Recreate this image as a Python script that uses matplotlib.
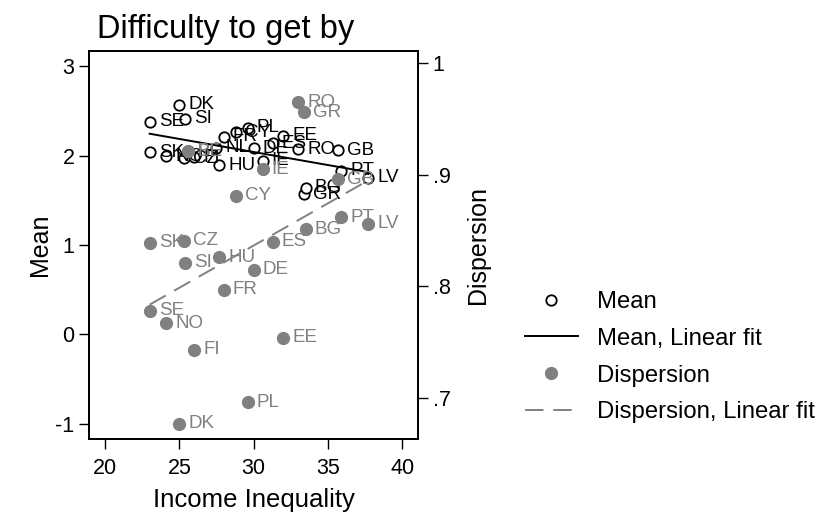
import numpy as np
import matplotlib.pyplot as plt
from matplotlib.lines import Line2D

plt.rcParams['font.family'] = ['Liberation Sans', 'DejaVu Sans']

# country codes, income inequality (x), mean difficulty (left axis), dispersion (right axis)
countries = ['SE', 'SK', 'NO', 'DK', 'CZ', 'SI', 'BE', 'FI', 'NL', 'HU', 'FR', 'CY',
             'PL', 'DE', 'IE', 'ES', 'EE', 'RO', 'GR', 'BG', 'GB', 'PT', 'LV']
inequality = [23.0, 23.0, 24.1, 25.0, 25.3, 25.4, 25.6, 26.0, 27.5, 27.7, 28.0, 28.8,
              29.6, 30.0, 30.6, 31.3, 32.0, 33.0, 33.4, 33.5, 35.7, 35.9, 37.7]
mean = [2.38, 2.04, 1.99, 2.57, 1.97, 2.41, 2.05, 1.98, 2.09, 1.89, 2.21, 2.26,
        2.31, 2.08, 1.94, 2.14, 2.22, 2.07, 1.57, 1.64, 2.06, 1.83, 1.75]
dispersion = [0.778, 0.839, 0.767, 0.677, 0.841, 0.821, 0.921, 0.743, np.nan, 0.826, 0.797, 0.881,
              0.696, 0.815, 0.905, 0.840, 0.754, 0.965, 0.956, 0.851, 0.896, 0.862, 0.856]

grey = '#808080'
dash = (9.5, 5)

x = np.array(inequality)
m = np.array(mean)
d = np.array(dispersion)

fig = plt.figure(figsize=(8.23, 5.15), dpi=100)
ax = fig.add_axes([89/823, 1-439/515, (418-89)/823, (439-51)/515])
ax2 = ax.twinx()

# mean scatter + fit
ax.plot(x, m, 'o', ms=7.5, mfc='white', mec='black', mew=1.3, zorder=3)
for c, xi, yi in zip(countries, x, m):
    ax.annotate(c, (xi, yi), xytext=(6.5, 0), textcoords='offset points',
                va='center', ha='left', fontsize=13.5, color='black', zorder=4)
ok = ~np.isnan(m)
b = np.polyfit(x[ok], m[ok], 1)
xf = np.array([x[ok].min(), x[ok].max()])
ax.plot(xf, np.polyval(b, xf), color='black', lw=1.4, zorder=3)

# dispersion scatter + fit
ok = ~np.isnan(d)
ax2.plot(x[ok], d[ok], 'o', ms=8.5, color=grey, mec=grey, zorder=3)
for c, xi, yi in zip(countries, x, d):
    if np.isnan(yi):
        continue
    ax2.annotate(c, (xi, yi), xytext=(6.5, 0), textcoords='offset points',
                 va='center', ha='left', fontsize=13.5, color=grey, zorder=4)
b2 = np.polyfit(x[ok], d[ok], 1)
xf2 = np.array([x[ok].min(), x[ok].max()])
ax2.plot(xf2, np.polyval(b2, xf2), color=grey, lw=1.4, dashes=dash, zorder=3)

ax.set_xlim(18.92, 41.06)
ax.set_ylim(-1.17, 3.17)
ax2.set_ylim(0.6633, 1.0107)

ax.set_xticks([20, 25, 30, 35, 40])
ax.set_yticks([-1, 0, 1, 2, 3])
ax.set_yticklabels(['-1', '0', '1', '2', '3'])
ax2.set_yticks([0.7, 0.8, 0.9, 1.0])
ax2.set_yticklabels(['.7', '.8', '.9', '1'])

for a in (ax, ax2):
    a.tick_params(axis='y', direction='out', length=7, width=1, labelsize=15.5, pad=3.5)
    for s in a.spines.values():
        s.set_linewidth(1.3)
ax.tick_params(axis='x', direction='out', length=7, width=1, labelsize=15.5, pad=7)

ax.set_xlabel('Income Inequality', fontsize=18.5)
ax.xaxis.set_label_coords(0.5, -(500-439)/388, transform=ax.transAxes)
ax.xaxis.label.set_va('center')
ax.set_ylabel('Mean', fontsize=18)
ax.yaxis.set_label_coords((40-89)/329, 0.5)
ax.yaxis.label.set_va('center')
ax2.set_ylabel('Dispersion', fontsize=18)
ax2.yaxis.set_label_coords((478-89)/329, 0.5)
ax2.yaxis.label.set_va('center')

fig.text(97/823, 1-38/515, 'Difficulty to get by', fontsize=23.5, ha='left', va='baseline')

handles = [
    Line2D([], [], marker='o', ls='none', ms=7.5, mfc='white', mec='black', mew=1.3),
    Line2D([], [], color='black', lw=1.4),
    Line2D([], [], marker='o', ls='none', ms=8.5, color=grey),
    Line2D([], [], color=grey, lw=1.4, dashes=dash),
]
labels = ['Mean', 'Mean, Linear fit', 'Dispersion', 'Dispersion, Linear fit']
fig.legend(handles, labels, loc='upper left', bbox_to_anchor=(525/823, 1-291/515),
           frameon=False, fontsize=17.2, handlelength=2.2, handletextpad=0.8,
           labelspacing=0.62, borderpad=0, borderaxespad=0)

fig.savefig('out.png', dpi=100)
